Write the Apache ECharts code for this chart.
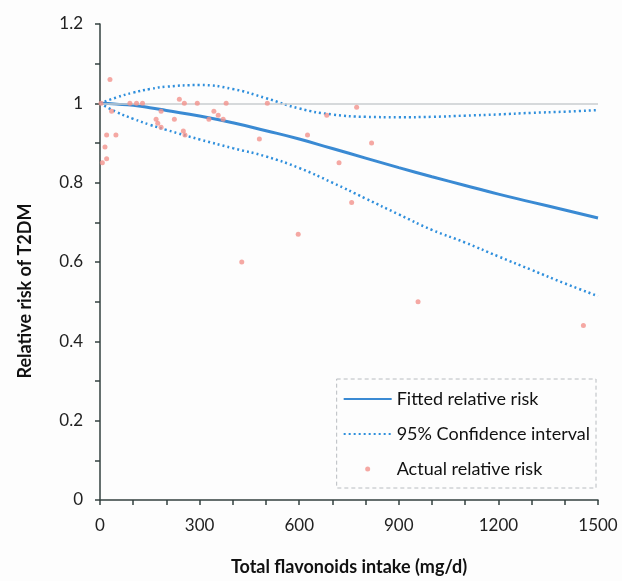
<!DOCTYPE html>
<html>
<head>
<meta charset="utf-8">
<script src="https://cdn.jsdelivr.net/npm/echarts@6/dist/echarts.min.js"></script>
<style>
  html, body { margin: 0; padding: 0; background: #fdfdfd; }
  #main { width: 622px; height: 581px; }
</style>
</head>
<body>
<div id="main"></div>
<script>
    // intake (mg/d) sampled along the fitted curve
    var intake = [0, 50, 100, 150, 200, 300, 400, 500, 600, 700, 800, 900, 1000, 1100, 1200, 1300, 1400, 1500];
    var fittedRR = [1.0, 0.998, 0.995, 0.989, 0.982, 0.968, 0.951, 0.931, 0.91, 0.886, 0.862, 0.838, 0.815, 0.793, 0.771, 0.751, 0.731, 0.711];
    var upperCI = [1.0, 1.015, 1.027, 1.036, 1.042, 1.046, 1.036, 1.013, 0.987, 0.972, 0.966, 0.965, 0.966, 0.969, 0.972, 0.976, 0.979, 0.983];
    var lowerCI = [1.0, 0.978, 0.961, 0.946, 0.933, 0.909, 0.887, 0.866, 0.837, 0.8, 0.76, 0.72, 0.681, 0.649, 0.614, 0.58, 0.546, 0.514];

    // actual relative risks from the studies
    var actualX = [3, 7, 15, 20, 20, 30, 35, 48, 90, 110, 128, 169, 174, 184, 184, 224, 239, 254, 251, 256,
        293, 328, 343, 356, 371, 380, 427, 480, 504, 597, 625, 683, 720, 758, 773, 818, 958, 1456];
    var actualRR = [1.0, 0.85, 0.89, 0.86, 0.92, 1.06, 0.98, 0.92, 1.0, 1.0, 1.0, 0.96, 0.95, 0.98, 0.94, 0.96, 1.01, 1.0, 0.93, 0.92,
        1.0, 0.96, 0.98, 0.97, 0.96, 1.0, 0.6, 0.91, 1.0, 0.67, 0.92, 0.97, 0.85, 0.75, 0.99, 0.9, 0.5, 0.44];

    var seriesNames = ['Fitted relative risk', '95% Confidence interval', 'Actual relative risk'];

    function pairs(xs, ys) {
        var out = [];
        for (var i = 0; i < xs.length; i++) {
            out.push([xs[i], ys[i]]);
        }
        return out;
    }

    var FONT = 'Lato, "Open Sans", sans-serif';
    var AXIS_COLOR = '#33403f';
    var BLUE = '#3a8ad3';
    var CI_BLUE = '#2f8fdc';

    var chart = echarts.init(document.getElementById('main'));
    var option = {
        backgroundColor: '#fdfdfd',
        animation: false,
        grid: { left: 100, right: 24, top: 24, bottom: 79, containLabel: false },
        legend: {
            orient: 'vertical',
            right: 26,
            top: 379,
            data: [
                { name: seriesNames[0], itemStyle: { opacity: 0 } },
                { name: seriesNames[1], itemStyle: { opacity: 0 } },
                { name: seriesNames[2] }
            ],
            itemWidth: 48,
            itemHeight: 5,
            itemGap: 13,
            padding: [9, 6, 8, 6],
            borderColor: '#b8bcc0',
            borderWidth: 1,
            borderType: [4, 3],
            textStyle: { fontFamily: FONT, fontSize: 18, color: '#111', lineHeight: 22 }
        },
        xAxis: {
            type: 'value',
            min: 0,
            max: 1500,
            interval: 300,
            name: 'Total flavonoids intake (mg/d)',
            nameLocation: 'middle',
            nameGap: 58,
            nameTextStyle: { fontFamily: FONT, fontSize: 18, fontWeight: 'bold', color: '#111' },
            axisLine: { show: true, lineStyle: { color: AXIS_COLOR, width: 1.5 } },
            axisTick: { show: true, length: 5, lineStyle: { color: AXIS_COLOR, width: 1.5 } },
            minorTick: { show: true, splitNumber: 3, length: 5, lineStyle: { color: AXIS_COLOR, width: 1.5 } },
            axisLabel: {
                fontFamily: FONT, fontSize: 17, color: '#222', margin: 17,
                formatter: function (v) { return String(v); }
            },
            splitLine: { show: false }
        },
        yAxis: {
            type: 'value',
            min: 0,
            max: 1.2,
            interval: 0.2,
            name: 'Relative risk of T2DM',
            nameLocation: 'middle',
            nameGap: 66,
            nameTextStyle: {
                fontFamily: FONT, fontSize: 18, fontWeight: 'bold', color: '#111',
                padding: [0, 58, 0, 0]
            },
            axisLine: { show: true, lineStyle: { color: AXIS_COLOR, width: 1.5 } },
            axisTick: { show: true, length: 5, lineStyle: { color: AXIS_COLOR, width: 1.5 } },
            minorTick: { show: true, splitNumber: 2, length: 5, lineStyle: { color: AXIS_COLOR, width: 1.5 } },
            axisLabel: { fontFamily: FONT, fontSize: 17, color: '#222', margin: 17 },
            splitLine: { show: false }
        },
        series: [
            {
                name: seriesNames[0],
                type: 'line',
                data: pairs(intake, fittedRR),
                smooth: true,
                symbol: 'none',
                z: 4,
                lineStyle: { color: BLUE, width: 3 },
                itemStyle: { color: BLUE },
                markLine: {
                    silent: true,
                    symbol: 'none',
                    label: { show: false },
                    lineStyle: { color: '#c9cccf', width: 1.5, type: 'solid' },
                    data: [{ yAxis: 1 }]
                }
            },
            {
                name: seriesNames[1],
                type: 'line',
                data: pairs(intake, upperCI),
                smooth: true,
                symbol: 'none',
                z: 3,
                lineStyle: { color: CI_BLUE, width: 2.5, type: [2, 3] },
                itemStyle: { color: CI_BLUE }
            },
            {
                name: seriesNames[1],
                type: 'line',
                data: pairs(intake, lowerCI),
                smooth: true,
                symbol: 'none',
                z: 3,
                lineStyle: { color: CI_BLUE, width: 2.5, type: [2, 3] },
                itemStyle: { color: CI_BLUE }
            },
            {
                name: seriesNames[2],
                type: 'scatter',
                data: pairs(actualX, actualRR),
                symbolSize: 5,
                clip: false,
                z: 5,
                itemStyle: { color: '#f3928c' }
            }
        ]
    };
    chart.setOption(option);
</script>
</body>
</html>
